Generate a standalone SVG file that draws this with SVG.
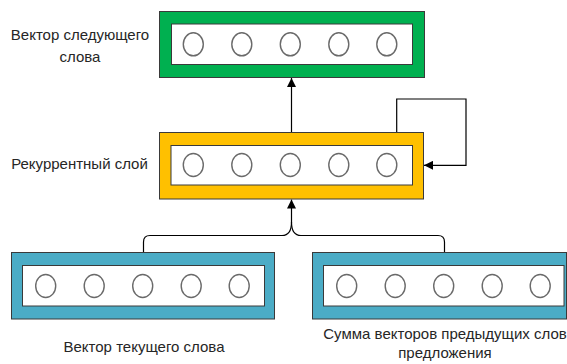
<svg xmlns="http://www.w3.org/2000/svg" width="567" height="364" viewBox="0 0 567 364">
<style>
.outer{stroke:#3a3a3a;stroke-width:1}
.inner{fill:#fff;stroke:#3a3a3a;stroke-width:1}
.n{fill:#fff;stroke:#6a6a6a;stroke-width:1.4}
.lbl{font-family:"Liberation Sans",Arial,sans-serif;font-size:15px;fill:#262626;text-anchor:middle}
.c{fill:none;stroke:#000;stroke-width:1.2}
</style>
<defs>
<marker id="ah" viewBox="0 0 10 10" refX="10" refY="5" markerWidth="9" markerHeight="9" markerUnits="userSpaceOnUse" orient="auto">
<path d="M0,0 L10,5 L0,10 z" fill="#000"/>
</marker>
<g id="row">
<ellipse class="n" cx="0" cy="0" rx="10" ry="11.5"/>
<ellipse class="n" cx="48.5" cy="0" rx="10" ry="11.5"/>
<ellipse class="n" cx="97" cy="0" rx="10" ry="11.5"/>
<ellipse class="n" cx="145.5" cy="0" rx="10" ry="11.5"/>
<ellipse class="n" cx="193.5" cy="0" rx="10" ry="11.5"/>
</g>
</defs>
<rect width="567" height="364" fill="#fff"/>
<g id="connectors">
<path class="c" d="M291.5,132.5 V78" marker-end="url(#ah)"/>
<path class="c" d="M396.7,132.5 V99 H466 V165.3 H424" marker-end="url(#ah)"/>
<path class="c" d="M143.5,252.5 V242 Q143.5,235.5 150,235.5 H282 Q291.5,235.5 291.5,222 V199.5" marker-end="url(#ah)"/>
<path class="c" d="M444.5,252.5 V242 Q444.5,235.5 438,235.5 H301 Q291.5,235.5 291.5,222"/>
</g>
<g id="next">
<rect class="outer" x="159.5" y="11.5" width="265" height="66" fill="#00B050"/>
<rect class="inner" x="171.5" y="24" width="241" height="40.5"/>
<use href="#row" x="193.3" y="44.3"/>
</g>
<g id="recurrent">
<rect class="outer" x="159.5" y="132.5" width="264" height="66.5" fill="#FFC000"/>
<rect class="inner" x="171" y="145.5" width="241.5" height="39.5"/>
<use href="#row" x="193.3" y="165"/>
</g>
<g id="current">
<rect class="outer" x="11.5" y="252.5" width="263" height="66.5" fill="#4BACC6"/>
<rect class="inner" x="22.5" y="265.5" width="242" height="40.5"/>
<use href="#row" x="45.7" y="286"/>
</g>
<g id="sum">
<rect class="outer" x="312.5" y="252.5" width="254" height="66.5" fill="#4BACC6"/>
<rect class="inner" x="323.5" y="265.5" width="240.5" height="40.5"/>
<use href="#row" x="346.7" y="286"/>
</g>
<g id="labels">
<text class="lbl" x="80" y="40">Вектор следующего</text>
<text class="lbl" x="80" y="61.5">слова</text>
<text class="lbl" x="79.5" y="169">Рекуррентный слой</text>
<text class="lbl" x="144" y="352">Вектор текущего слова</text>
<text class="lbl" x="445" y="339">Сумма векторов предыдущих слов</text>
<text class="lbl" x="445" y="357.5">предложения</text>
</g>
</svg>
